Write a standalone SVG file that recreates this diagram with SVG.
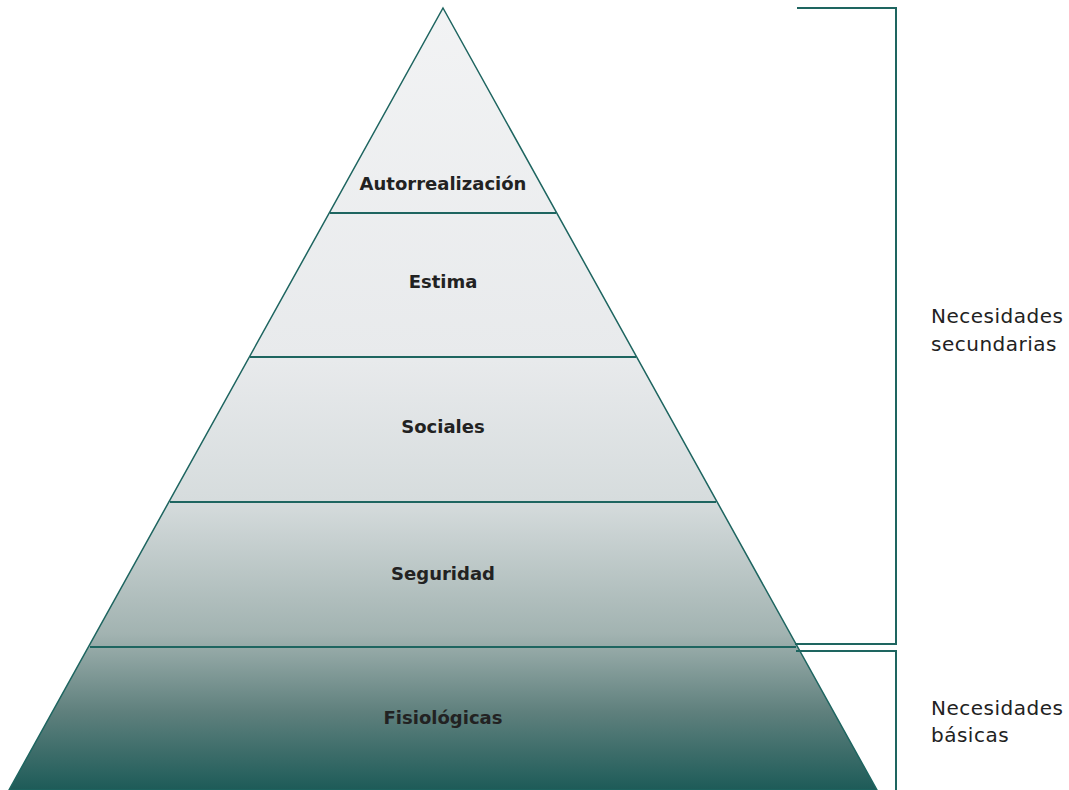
<svg xmlns="http://www.w3.org/2000/svg" width="1069" height="790" viewBox="0 0 1069 790">
<style>
.lvl{font-family:"DejaVu Sans","Liberation Sans",sans-serif;font-weight:bold;font-size:18px;fill:#222;text-anchor:middle}
.side{font-family:"DejaVu Sans","Liberation Sans",sans-serif;font-size:20px;fill:#222;letter-spacing:0.5px}
.ln{stroke:#1e6560;stroke-width:2;fill:none}
</style>
<defs>
<linearGradient id="g" gradientUnits="userSpaceOnUse" x1="0" y1="8" x2="0" y2="790">
<stop offset="0" stop-color="#f2f3f4"/>
<stop offset="0.45" stop-color="#e8eaec"/>
<stop offset="0.63" stop-color="#d6dcdd"/>
<stop offset="0.8" stop-color="#a2b3b1"/>
<stop offset="0.9" stop-color="#5f807d"/>
<stop offset="1" stop-color="#1d5b58"/>
</linearGradient>
</defs>
<g id="pyramid">
<polygon points="443,8 877,790 9,790" fill="url(#g)" stroke="#1e6560" stroke-width="1.5"/>
</g>
<g id="connectors">
<line class="ln" x1="330" y1="213" x2="556" y2="213"/>
<line class="ln" x1="250" y1="357" x2="636" y2="357"/>
<line class="ln" x1="170" y1="502" x2="716" y2="502"/>
<line class="ln" x1="90" y1="647" x2="796" y2="647"/>
<polyline class="ln" points="797,8 896,8 896,644 795,644"/>
<polyline class="ln" points="796,651 896,651 896,790"/>
</g>
<g id="n1"><text class="lvl" x="443" y="190">Autorrealización</text></g>
<g id="n2"><text class="lvl" x="443" y="288">Estima</text></g>
<g id="n3"><text class="lvl" x="443" y="433">Sociales</text></g>
<g id="n4"><text class="lvl" x="443" y="580">Seguridad</text></g>
<g id="n5"><text class="lvl" x="443" y="724">Fisiológicas</text></g>
<g id="l1"><text class="side" x="931" y="323">Necesidades</text><text class="side" x="931" y="351">secundarias</text></g>
<g id="l2"><text class="side" x="931" y="715">Necesidades</text><text class="side" x="931" y="742">básicas</text></g>
</svg>
